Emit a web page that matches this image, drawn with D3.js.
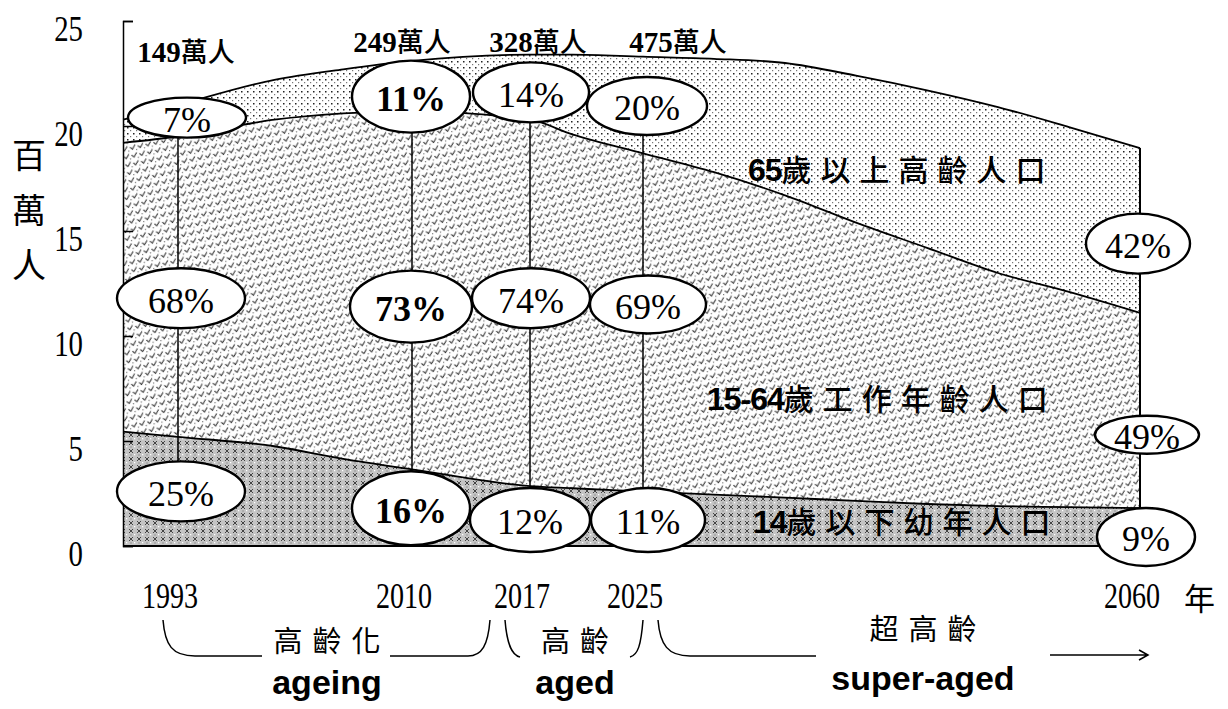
<!DOCTYPE html>
<html>
<head>
<meta charset="utf-8">
<script src="https://cdn.jsdelivr.net/npm/d3@7"></script>
<style>
body{margin:0;background:#fff}
</style>
</head>
<body>
<div class="bigvis"></div>
<script>
var width = 1228
var height = 709

// population by age group, millions
var years    = [1989, 1993, 2000, 2005, 2010, 2017, 2020, 2025, 2030, 2035, 2040, 2045, 2050, 2055, 2060]
var children = [5.45, 5.2, 4.75, 4.15, 3.65, 2.85, 2.75, 2.6, 2.45, 2.3, 2.15, 2.0, 1.9, 1.85, 1.8]
var working  = [13.75, 14.3, 15.55, 16.45, 17.05, 17.45, 16.85, 16.1, 15.35, 14.4, 13.25, 12.2, 11.1, 10.25, 9.3]
var elderly  = [1.1, 1.5, 1.9, 2.1, 2.4, 3.1, 3.8, 4.6, 5.4, 6.3, 7.0, 7.5, 7.9, 7.85, 7.85]

var yTicks = [0, 5, 10, 15, 20, 25]
var xTickYears = [1993, 2010, 2017, 2025, 2060]
var xTickLabels = ["1993", "2010", "2017", "2025", "2060"]

var countYears = [1993, 2010, 2017, 2025]
var countNums = ["149", "249", "328", "475"]

var pctLabels = ["7%", "68%", "25%", "11%", "73%", "16%", "14%", "74%", "12%", "20%", "69%", "11%", "42%", "49%", "9%"]
var pctYears  = [1993, 1993, 1993, 2010, 2010, 2010, 2017, 2017, 2017, 2025, 2025, 2025, 2060, 2060, 2060]
var pctValues = [20.4, 11.8, 2.6, 21.4, 11.4, 1.8, 21.6, 11.8, 1.24, 20.95, 11.5, 1.24, 14.4, 5.3, 0.43]
var pctBold   = [false, false, false, true, true, true, false, false, false, false, false, false, false, false, false]

var seriesNums = ["14", "15-64", "65"]
var seriesNames = ["歲以下幼年人口", "歲工作年齡人口", "歲以上高齡人口"]

var stageZh = ["高齡化", "高齡", "超高齡"]
var stageEn = ["ageing", "aged", "super-aged"]

// layout
var pctDx = [9, 3, 3, -1, -1, -1, 1, 1, 0, 4, 5, 5, -2, 7, 6]
var pctRx = [59, 64, 64, 59, 61, 59, 58, 59, 60, 60, 58, 57, 52, 52, 49]
var pctRy = [20, 30, 30, 36, 36, 37, 30, 30, 32, 29, 29, 32, 30, 19, 29]
var countDx = [8, -10, 8, 35]
var seriesPos = [[753, 533], [707, 410], [748, 181]]
var stageX = [327, 575, 923]

var serif = "'Liberation Serif', 'Times New Roman', serif"
var cjk = "'Noto Sans CJK TC', 'Noto Sans CJK SC', sans-serif"
var sans = "'Liberation Sans', Arial, sans-serif"

var x = d3.scaleLinear()
    .domain([1989, 1993, 2010, 2017, 2025, 2060])
    .range([123, 178, 412, 530, 643, 1140])
var y = d3.scaleLinear().domain([0, 25]).range([546, 21])

var svg = d3.select(".bigvis").append("svg")
    .attr("width", width)
    .attr("height", height)
var defs = svg.append("defs")

// fill patterns (scanned-print look)
var pE = defs.append("pattern").attr("id", "patElderly")
    .attr("patternUnits", "userSpaceOnUse").attr("width", 6).attr("height", 6)
pE.append("rect").attr("width", 6).attr("height", 6).attr("fill", "#fff")
pE.append("rect").attr("x", 1).attr("y", 1).attr("width", 1.5).attr("height", 1.5).attr("fill", "#222")
pE.append("rect").attr("x", 4).attr("y", 4).attr("width", 1.2).attr("height", 1.2).attr("fill", "#777")

var pW = defs.append("pattern").attr("id", "patWorking")
    .attr("patternUnits", "userSpaceOnUse").attr("width", 8).attr("height", 8)
    .attr("patternTransform", "rotate(-12)")
pW.append("rect").attr("width", 8).attr("height", 8).attr("fill", "#fff")
pW.append("path").attr("d", "M0.5,3 L2.5,5.5 L6,1.5").attr("fill", "none")
    .attr("stroke", "#222").attr("stroke-width", 1.1)
pW.append("rect").attr("x", 6).attr("y", 6).attr("width", 1.2).attr("height", 1.2).attr("fill", "#777")

var pC = defs.append("pattern").attr("id", "patChildren")
    .attr("patternUnits", "userSpaceOnUse").attr("width", 8).attr("height", 8)
pC.append("rect").attr("width", 8).attr("height", 8).attr("fill", "#c4c4c4")
pC.append("path").attr("d", "M1,1 L5,5 M5,1 L1,5").attr("fill", "none")
    .attr("stroke", "#444").attr("stroke-width", 1)
pC.append("rect").attr("x", 6).attr("y", 6).attr("width", 1.3).attr("height", 1.3).attr("fill", "#fff")
pC.append("rect").attr("x", 2.5).attr("y", 6.5).attr("width", 1).attr("height", 1).attr("fill", "#666")

var rows = years.map(function(yr, i){
  return {year: yr, children: children[i], working: working[i], elderly: elderly[i]}
})
var keys = ["children", "working", "elderly"]
var fills = {children: "url(#patChildren)", working: "url(#patWorking)", elderly: "url(#patElderly)"}
var layers = d3.stack().keys(keys)(rows)

var area = d3.area()
    .x(function(d){ return x(d.data.year) })
    .y0(function(d){ return y(d[0]) })
    .y1(function(d){ return y(d[1]) })
    .curve(d3.curveMonotoneX)
var topLine = d3.line()
    .x(function(d){ return x(d.data.year) })
    .y(function(d){ return y(d[1]) })
    .curve(d3.curveMonotoneX)

svg.append("g").selectAll("path").data(layers).enter().append("path")
    .attr("d", area)
    .attr("fill", function(d){ return fills[d.key] })

svg.append("g").selectAll("path").data(layers).enter().append("path")
    .attr("d", topLine)
    .attr("fill", "none")
    .attr("stroke", "#000")
    .attr("stroke-width", 1.8)

// baseline and right edge
var last = rows[rows.length - 1]
svg.append("line")
    .attr("x1", x(years[0])).attr("x2", x(last.year))
    .attr("y1", y(0)).attr("y2", y(0))
    .attr("stroke", "#000").attr("stroke-width", 2)
svg.append("line")
    .attr("x1", x(last.year)).attr("x2", x(last.year))
    .attr("y1", y(last.children + last.working + last.elderly)).attr("y2", y(0))
    .attr("stroke", "#000").attr("stroke-width", 2)

// vertical guides joining the ellipses of each year
var guideYears = [1993, 2010, 2017, 2025, 2060]
guideYears.forEach(function(yr){
  var vals = pctValues.filter(function(v, i){ return pctYears[i] == yr })
  svg.append("line")
    .attr("x1", x(yr)).attr("x2", x(yr))
    .attr("y1", y(d3.max(vals))).attr("y2", y(d3.min(vals)))
    .attr("stroke", "#000").attr("stroke-width", 1.5)
})

// y axis: ticks point inward
var yAxis = svg.append("g")
    .attr("transform", "translate(" + x(years[0]) + ",0)")
    .call(d3.axisLeft(y).tickValues(yTicks).tickSizeInner(-10).tickSizeOuter(-10).tickPadding(50))
yAxis.selectAll("path,line").attr("stroke", "#000").attr("stroke-width", 1.5)
yAxis.selectAll("text")
    .attr("transform", "scale(0.8,1)")
    .attr("dy", "0.55em")
    .attr("fill", "#000")
    .style("font-family", serif)
    .style("font-size", "36px")

// y title, vertical
var yTitle = ["百", "萬", "人"]
svg.append("g").selectAll("text").data(yTitle).enter().append("text")
    .attr("x", 29)
    .attr("y", function(d, i){ return 168 + i * 55 })
    .attr("text-anchor", "middle")
    .style("font-family", cjk)
    .style("font-size", "34px")
    .text(function(d){ return d })

// x labels
svg.append("g").selectAll("text").data(xTickYears).enter().append("text")
    .attr("transform", function(d){ return "translate(" + (x(d) - 8) + ",608) scale(0.78,1)" })
    .attr("text-anchor", "middle")
    .style("font-family", serif)
    .style("font-size", "36px")
    .text(function(d, i){ return xTickLabels[i] })
svg.append("text")
    .attr("x", 1184).attr("y", 610)
    .style("font-family", cjk)
    .style("font-size", "31px")
    .text("年")

// ellipses with shares
var pct = svg.append("g").selectAll("g").data(pctLabels).enter().append("g")
    .attr("transform", function(d, i){ return "translate(" + (x(pctYears[i]) + pctDx[i]) + "," + y(pctValues[i]) + ")" })
pct.append("ellipse")
    .attr("rx", function(d, i){ return pctRx[i] })
    .attr("ry", function(d, i){ return pctRy[i] })
    .attr("fill", "#fff")
    .attr("stroke", "#000")
    .attr("stroke-width", 2.4)
pct.append("text")
    .attr("text-anchor", "middle")
    .attr("dy", "0.4em")
    .style("font-family", serif)
    .style("font-size", "36px")
    .style("font-weight", function(d, i){ return pctBold[i] ? "bold" : "normal" })
    .text(function(d){ return d })

// elderly head counts above the curve
var cnt = svg.append("g").selectAll("text").data(countNums).enter().append("text")
    .attr("x", function(d, i){ return x(countYears[i]) + countDx[i] })
    .attr("y", function(d, i){ return i == 0 ? 62 : 52 })
    .attr("text-anchor", "middle")
cnt.append("tspan")
    .style("font-family", serif).style("font-size", "29px").style("font-weight", "bold")
    .text(function(d){ return d })
cnt.append("tspan")
    .style("font-family", cjk).style("font-size", "27px").style("font-weight", 500)
    .text("萬人")

// series names
var sl = svg.append("g").selectAll("text").data(seriesNames).enter().append("text")
    .attr("x", function(d, i){ return seriesPos[i][0] })
    .attr("y", function(d, i){ return seriesPos[i][1] })
sl.append("tspan")
    .style("font-family", sans).style("font-size", "32px").style("font-weight", "bold")
    .style("letter-spacing", "-1px")
    .text(function(d, i){ return seriesNums[i] })
sl.append("tspan")
    .style("font-family", cjk).style("font-size", "30px").style("font-weight", 500)
    .style("letter-spacing", "9px")
    .text(function(d){ return d })

// stage brackets
var br = svg.append("g").attr("fill", "none").attr("stroke", "#000").attr("stroke-width", 1.5)
var b = d3.path()
b.moveTo(163, 620); b.bezierCurveTo(165, 645, 172, 656, 195, 656); b.lineTo(262, 656)
b.moveTo(390, 656); b.lineTo(468, 656); b.bezierCurveTo(482, 656, 488, 645, 490, 620)
b.moveTo(505, 620); b.bezierCurveTo(507, 645, 512, 655, 520, 657)
b.moveTo(630, 657); b.bezierCurveTo(638, 655, 641, 645, 643, 620)
b.moveTo(658, 620); b.bezierCurveTo(660, 645, 668, 656, 690, 656); b.lineTo(816, 656)
b.moveTo(1050, 655); b.lineTo(1148, 655)
b.moveTo(1139, 650); b.lineTo(1148, 655); b.lineTo(1139, 660)
br.append("path").attr("d", b.toString())

svg.append("g").selectAll("text").data(stageZh).enter().append("text")
    .attr("x", function(d, i){ return stageX[i] + 5 })
    .attr("y", function(d, i){ return i == 2 ? 640 : 652 })
    .attr("text-anchor", "middle")
    .style("font-family", cjk)
    .style("font-size", "29px")
    .style("letter-spacing", "10px")
    .text(function(d){ return d })

svg.append("g").selectAll("text").data(stageEn).enter().append("text")
    .attr("x", function(d, i){ return stageX[i] })
    .attr("y", function(d, i){ return i == 2 ? 690 : 694 })
    .attr("text-anchor", "middle")
    .style("font-family", sans)
    .style("font-size", "34px")
    .style("font-weight", "bold")
    .text(function(d){ return d })
</script>
</body>
</html>
